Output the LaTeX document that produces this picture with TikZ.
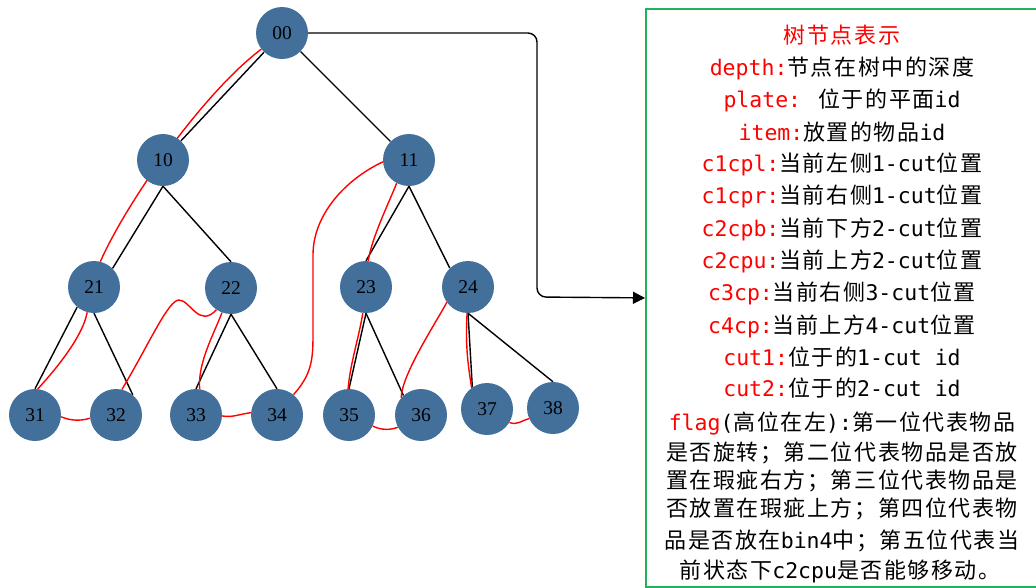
\documentclass[tikz,border=0pt]{standalone}
\usepackage{fontspec}
\setmainfont{Liberation Serif}
\newfontfamily\cjkfont[LetterSpace=7]{Noto Sans CJK SC}
\newfontfamily\monofont{DejaVu Sans Mono}
\usetikzlibrary{arrows.meta}
\definecolor{nodeblue}{HTML}{43709B}
\definecolor{boxgreen}{HTML}{1FB35A}
\newcommand\zhtxt[1]{{\fontsize{22}{22}\selectfont\cjkfont #1}}
\newcommand\kwtxt[1]{{\monofont\color{red}#1}}
\newcommand\mtxt[1]{{\monofont #1}}
\pgfdeclarelayer{background}
\pgfsetlayers{background,main}
\begin{document}
\begin{tikzpicture}[x=1pt,y=-1pt,
  treenode/.style={circle, fill=nodeblue, minimum size=52pt, inner sep=0pt,
    font=\fontsize{19.5}{20}\selectfont},
  treeedge/.style={draw=black, line width=1.4pt},
  visitpath/.style={draw=red, line width=1.4pt},
  link/.style={draw=black, line width=1.4pt, rounded corners=9pt,
    -{Triangle[length=12pt,width=12pt]}},
  infobox/.style={draw=boxgreen, line width=1.8pt, anchor=north west,
    minimum width=395pt, minimum height=578pt, inner sep=0pt},
  infoline/.style={anchor=center, inner sep=0pt, text height=16.8pt,
    text depth=0pt, font=\fontsize{21.5}{22}\selectfont\monofont}]
\useasboundingbox (0,0) rectangle (1036,587);

% tree nodes
\node[treenode] (n00) at (282,33) {00};
\node[treenode] (n10) at (163,160) {10};
\node[treenode] (n11) at (409,160) {11};
\node[treenode] (n21) at (94,287) {21};
\node[treenode] (n22) at (231,288) {22};
\node[treenode] (n23) at (366,287) {23};
\node[treenode] (n24) at (468,287) {24};
\node[treenode] (n31) at (35,415) {31};
\node[treenode] (n32) at (116,415) {32};
\node[treenode] (n33) at (196,415) {33};
\node[treenode] (n34) at (277,415) {34};
\node[treenode] (n35) at (349,415) {35};
\node[treenode] (n36) at (421,415) {36};
\node[treenode] (n37) at (487,409) {37};
\node[treenode] (n38) at (553,408) {38};

% waypoints of the traversal curve
\coordinate (w1) at (179,300);
\coordinate (w2) at (313,335);
\coordinate (w3) at (313,255);
\coordinate (bend) at (537,297);

\begin{pgfonlayer}{background}
  % tree edges
  \draw[treeedge] (n00) -- (n10);
  \draw[treeedge] (n00) -- (n11);
  \draw[treeedge] (n10.south) -- (n21.45);
  \draw[treeedge] (n10.south) -- (n22.north);
  \draw[treeedge] (n11.south) -- (n23.north);
  \draw[treeedge] (n11.south) -- (n24.134);
  \draw[treeedge] (n21.230) -- (n31.north);
  \draw[treeedge] (n21.south) -- (n32.50);
  \draw[treeedge] (n22.south) -- (n33.north);
  \draw[treeedge] (n22.south) -- (n34.north);
  \draw[treeedge] (n23.south) -- (n35.north);
  \draw[treeedge] (n23.south) -- (n36.132);
  \draw[treeedge] (n24.south) -- (n37.124);
  \draw[treeedge] (n24.south) -- (n38.north);

  % depth-first traversal
  \draw[visitpath] (n00.218) .. controls +(-56,42) and +(28,-63) .. (n21.76);
  \draw[visitpath] (n21.255) .. controls +(-5,27) and +(12,-13) .. (n31.84);
  \draw[visitpath] (n31.356) .. controls +(10,4) and +(-10,3) .. (n32.187);
  \draw[visitpath] (n32.77) .. controls +(26,-43) and +(-11,0) .. (w1)
                   .. controls +(11,0) and +(-17,19) .. (n22.236);
  \draw[visitpath] (n22.250) .. controls +(-10,25) and +(-2,-25) .. (n33.82);
  \draw[visitpath] (n33.358) .. controls +(10,2) and +(-10,1) .. (n34.175);
  \draw[visitpath] (n34.51) .. controls +(18,-20) and +(0,25) .. (w2) -- (w3)
                   .. controls +(0,-40) and +(-38,18) .. (n11.184);
  \draw[visitpath] (n11.242) .. controls +(-8,20) and +(3,-22) .. (n23.85);
  \draw[visitpath] (n23.263) .. controls +(-4,25) and +(2,-25) .. (n35.92);
  \draw[visitpath] (n35.335) .. controls +(8,4) and +(-8,3) .. (n36.208);
  \draw[visitpath] (n36.139) .. controls +(0,-22) and +(-12,22) .. (n24.216);
  \draw[visitpath] (n24.268) .. controls +(-2,35) and +(-3,-20) .. (n37.126);
  \draw[visitpath] (n37.329) .. controls +(8,3) and +(-8,2) .. (n38.204);
\end{pgfonlayer}

% legend box
\node[infobox] (info) at (645,8) {};
\draw[link] (n00.east) -| (bend) -- (info.west);

\node[infoline] (t1) at (842,35) {{\fontsize{22}{22}\selectfont\cjkfont\color{red}树节点表示}};
\node[infoline] (t2) at (842,67) {\kwtxt{depth:}\zhtxt{节点在树中的深度}};
\node[infoline] (t3) at (842,99) {\kwtxt{plate: }\zhtxt{位于的平面}\mtxt{id}};
\node[infoline] (t4) at (842,132) {\kwtxt{item:}\zhtxt{放置的物品}\mtxt{id}};
\node[infoline] (t5) at (842,163) {\kwtxt{c1cpl:}\zhtxt{当前左侧}\mtxt{1-cut}\zhtxt{位置}};
\node[infoline] (t6) at (842,195) {\kwtxt{c1cpr:}\zhtxt{当前右侧}\mtxt{1-cut}\zhtxt{位置}};
\node[infoline] (t7) at (842,228) {\kwtxt{c2cpb:}\zhtxt{当前下方}\mtxt{2-cut}\zhtxt{位置}};
\node[infoline] (t8) at (842,260) {\kwtxt{c2cpu:}\zhtxt{当前上方}\mtxt{2-cut}\zhtxt{位置}};
\node[infoline] (t9) at (842,292) {\kwtxt{c3cp:}\zhtxt{当前右侧}\mtxt{3-cut}\zhtxt{位置}};
\node[infoline] (t10) at (842,325) {\kwtxt{c4cp:}\zhtxt{当前上方}\mtxt{4-cut}\zhtxt{位置}};
\node[infoline] (t11) at (842,357) {\kwtxt{cut1:}\zhtxt{位于的}\mtxt{1-cut id}};
\node[infoline] (t12) at (842,388) {\kwtxt{cut2:}\zhtxt{位于的}\mtxt{2-cut id}};
\node[infoline] (t13) at (842,422) {\kwtxt{flag}\mtxt{(}\zhtxt{高位在左}\mtxt{):}\zhtxt{第一位代表物品}};
\node[infoline] (t14) at (842,452) {\zhtxt{是否旋转；第二位代表物品是否放}};
\node[infoline] (t15) at (842,480) {\zhtxt{置在瑕疵右方；第三位代表物品是}};
\node[infoline] (t16) at (842,508) {\zhtxt{否放置在瑕疵上方；第四位代表物}};
\node[infoline] (t17) at (842,540) {\zhtxt{品是否放在}\mtxt{bin4}\zhtxt{中；第五位代表当}};
\node[infoline] (t18) at (840,570) {\zhtxt{前状态下}\mtxt{c2cpu}\zhtxt{是否能够移动。}};
\end{tikzpicture}
\end{document}
